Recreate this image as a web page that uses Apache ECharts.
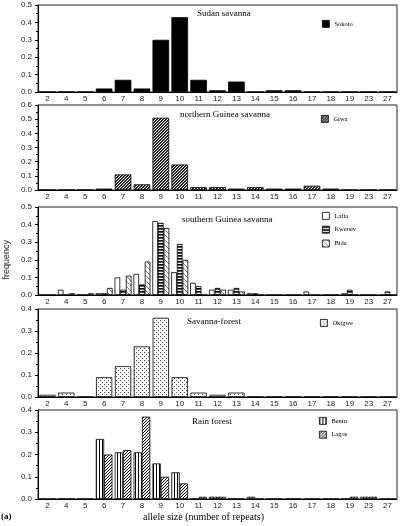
<!DOCTYPE html>
<html><head><meta charset="utf-8">
<script src="https://cdn.jsdelivr.net/npm/echarts@6/dist/echarts.min.js"></script>
<style>html,body{margin:0;padding:0;background:#fff}#c{width:400px;height:526px}</style>
</head><body><div id="c"></div>
<script>
const categories = ['2','4','5','6','7','8','9','10','11','12','13','14','15','16','17','18','19','23','27'];
const sokoto = [0,0,0,0.02,0.07,0.02,0.30,0.43,0.07,0.01,0.06,0,0.01,0.01,0,0,0,0,0];
const giwa   = [0,0,0,0.01,0.11,0.04,0.51,0.18,0.02,0.02,0.01,0.02,0.01,0.01,0.03,0.01,0,0,0];
const lafia  = [0,0.03,0,0.01,0.10,0.12,0.42,0.13,0.07,0.03,0.03,0.01,0,0,0.02,0,0.01,0,0];
const kwenev = [0,0,0,0.01,0.03,0.06,0.41,0.29,0.05,0.04,0.04,0.01,0,0,0,0,0.03,0,0.02];
const bida   = [0,0.01,0.01,0.04,0.11,0.19,0.38,0.20,0,0.03,0.02,0,0,0,0,0,0,0,0];
const okigwe = [0.01,0.02,0,0.09,0.14,0.23,0.36,0.09,0.02,0.01,0.02,0,0,0,0,0,0,0,0];
const benin  = [0,0,0,0.27,0.21,0.21,0.16,0.12,0,0.01,0,0.01,0,0,0,0,0,0.01,0];
const lagos  = [0,0,0,0.20,0.22,0.37,0.10,0.07,0.01,0.01,0,0,0,0,0,0,0.01,0.01,0];
const panelTitles = ['Sudan savanna','northern Guinea savanna','southern Guinea savanna','Savanna-forest','Rain forest'];
const yMax = [0.5,0.6,0.5,0.4,0.4];

function pat(w,h,cells){
  const c=document.createElement('canvas');c.width=w;c.height=h;
  const g=c.getContext('2d');g.fillStyle='#fff';g.fillRect(0,0,w,h);
  cells.forEach(p=>{g.fillStyle=p[2]||'#000';g.fillRect(p[0],p[1],1,1);});
  return {image:c,repeat:'repeat'};
}
const pGiwa = pat(3,3,[[0,2],[1,1],[2,0],[1,2,'#444'],[2,1,'#444'],[0,0,'#444']]);
const pKwenev = pat(2,3,[[0,0],[1,0],[0,1,'#555'],[1,1,'#555']]);
const pBida = pat(5,5,[[0,0,'#666'],[1,1,'#666'],[2,2,'#888'],[3,3,'#666'],[4,4,'#888']]);
const pOkigwe = pat(4,4,[[0,0,'#444'],[2,2,'#444']]);
const pBenin = pat(3,1,[[0,0]]);
const pLagos = pat(3,3,[[0,2],[1,1],[2,0]]);

const tops=[5,105,207,309,410], heights=[87,85,88,88,89];
const grids=[],xAxes=[],yAxes=[],titles=[];
for(let i=0;i<5;i++){
  grids.push({left:38,right:3,top:tops[i],height:heights[i],show:true,borderColor:'#222',borderWidth:1,backgroundColor:'transparent'});
  xAxes.push({type:'category',gridIndex:i,data:categories,
    axisLine:{lineStyle:{color:'#000',width:1}},axisTick:{show:false},
    axisLabel:{interval:0,fontSize:8,margin:3,color:'#222',fontFamily:'Liberation Sans'}});
  yAxes.push({type:'value',gridIndex:i,min:0,max:yMax[i],interval:0.1,
    axisLine:{show:true,lineStyle:{color:'#000',width:1}},
    axisTick:{show:true,length:3,lineStyle:{color:'#000'}},
    minorTick:{show:true,splitNumber:2,length:2,lineStyle:{color:'#000'}},
    splitLine:{show:false},
    axisLabel:{fontSize:8,margin:6,color:'#222',fontFamily:'Liberation Sans',formatter:v=>v.toFixed(1)}});
}
const titleLeft=[197,180,182,187,192];
const titleTop=[9,110,215,317,417];
for(let i=0;i<5;i++){
  titles.push({text:panelTitles[i],left:titleLeft[i],top:titleTop[i],padding:0,
    textStyle:{fontFamily:'Liberation Serif',fontSize:9,fontWeight:'normal',color:'#000'}});
}
titles.push({text:'allele size (number of repeats)',left:143,top:512,padding:0,textStyle:{fontFamily:'Liberation Serif',fontSize:10,fontWeight:'normal',color:'#000'}});
titles.push({text:'(a)',left:1,top:512,padding:0,textStyle:{fontFamily:'Liberation Serif',fontSize:9,fontWeight:'bold',color:'#000'}});

const bs={borderColor:'#000',borderWidth:0.8};
function bar(name,data,idx,fill,extra){
  return Object.assign({type:'bar',name:name,data:data,xAxisIndex:idx,yAxisIndex:idx,
    barCategoryGap:'12%',barGap:'0%',itemStyle:Object.assign({color:fill},bs),
    emphasis:{disabled:true},animation:false},extra||{});
}
const series=[
  bar('Sokoto',sokoto,0,'#000'),
  bar('Giwa',giwa,1,pGiwa),
  bar('Lafia',lafia,2,'#fff',{barCategoryGap:'10%'}),
  bar('Kwenev',kwenev,2,pKwenev,{barCategoryGap:'10%'}),
  bar('Bida',bida,2,pBida,{barCategoryGap:'10%'}),
  bar('Okigwe',okigwe,3,pOkigwe,{barCategoryGap:'14%'}),
  bar('Benin',benin,4,pBenin,{barCategoryGap:'12%'}),
  bar('Lagos',lagos,4,pLagos,{barCategoryGap:'12%'})
];
const lg=(names,top,left)=>({data:names,top:top,left:left,orient:'vertical',itemWidth:7,itemHeight:7,itemGap:6,padding:0,
  icon:'rect',textStyle:{fontFamily:'Liberation Serif',fontSize:6.5,color:'#000'},selectedMode:false,
  itemStyle:{borderColor:'#000',borderWidth:0.8}});
const legends=[
  lg(['Sokoto'],20,322),
  lg(['Giwa'],115,321),
  lg(['Lafia','Kwenev','Bida'],212,322),
  lg(['Okigwe'],319,320),
  lg(['Benin','Lagos'],417,319)
];
const chart=echarts.init(document.getElementById('c'),null,{renderer:'canvas'});
chart.setOption({
  animation:false,
  backgroundColor:'#fff',
  title:titles,
  legend:legends,
  grid:grids,xAxis:xAxes,yAxis:yAxes,series:series,
  graphic:[{type:'text',left:2,top:240,rotation:Math.PI/2,
    style:{text:'frequency',fontFamily:'Liberation Sans',fontSize:9,fill:'#222'}}]
});
</script></body></html>
